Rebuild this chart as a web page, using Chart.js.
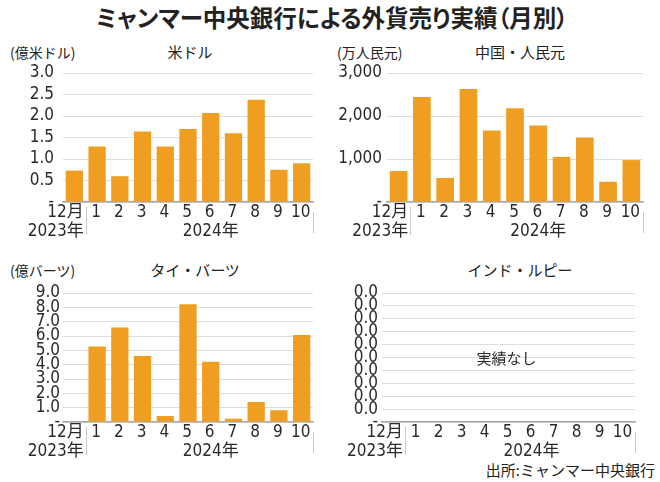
<!DOCTYPE html>
<html>
<head>
<meta charset="utf-8">
<script src="https://cdn.jsdelivr.net/npm/chart.js@4.4.1/dist/chart.umd.min.js"></script>
<style>
  body { margin: 0; background: #fff; }
  #wrap { position: relative; width: 660px; height: 482px; overflow: hidden; font-family: 'Noto Sans CJK JP', sans-serif; color: #222; }
  .txt { position: absolute; white-space: nowrap; line-height: 1; }
  canvas { position: absolute; }
</style>
</head>
<body>
<div id="wrap">
  <div class="txt" style="left:0;width:664px;text-align:center;top:6px;font-size:23.5px;font-weight:bold;font-feature-settings:'palt';">ミャンマー中央銀行による外貨売り実績（月別）</div>

  <div class="txt" style="left:10px;top:45px;font-size:14px;">(億米ドル)</div>
  <div class="txt" style="left:140px;width:100px;text-align:center;top:44px;font-size:15px;">米ドル</div>
  <div class="txt" style="left:337px;top:45px;font-size:14px;">(万人民元)</div>
  <div class="txt" style="left:460px;width:120px;text-align:center;top:44px;font-size:15px;">中国・人民元</div>

  <div class="txt" style="left:10px;top:263px;font-size:14px;">(億バーツ)</div>
  <div class="txt" style="left:135px;width:120px;text-align:center;top:262px;font-size:15px;">タイ・バーツ</div>
  <div class="txt" style="left:460px;width:120px;text-align:center;top:262px;font-size:15px;">インド・ルピー</div>

  <div class="txt" style="right:5px;top:462px;font-size:15px;">出所:ミャンマー中央銀行</div>

  <canvas id="c1" width="330" height="210" style="left:0;top:40px;"></canvas>
  <canvas id="c2" width="330" height="210" style="left:330px;top:40px;"></canvas>
  <canvas id="c3" width="330" height="210" style="left:0;top:260px;"></canvas>
  <canvas id="c4" width="330" height="210" style="left:330px;top:260px;"></canvas>
</div>
<script>
// categories
const months = ['12月', '1', '2', '3', '4', '5', '6', '7', '8', '9', '10']
const yearLabels = ['2023年', '2024年']

// series
const usdValues = [0.73, 1.29, 0.6, 1.64, 1.29, 1.7, 2.07, 1.6, 2.38, 0.75, 0.9]
const cnyValues = [720, 2440, 560, 2630, 1660, 2180, 1780, 1050, 1500, 470, 975]
const thbValues = [0, 5.26, 6.6, 4.6, 0.42, 8.22, 4.2, 0.23, 1.4, 0.82, 6.07]
const inrValues = [null, null, null, null, null, null, null, null, null, null, null]
const noDataText = '実績なし'

const barColor = '#EF9E22'
const textColor = '#2a2a2a'
const tickFont = { family: "'DejaVu Sans','Noto Sans CJK JP',sans-serif", size: 17, weight: 'condensed' }
const fontStr = 'condensed ' + tickFont.size + 'px ' + tickFont.family

// month labels, separators and year labels under the x axis
const extras = {
  id: 'extras',
  afterDraw (chart) {
    const ctx = chart.ctx
    const x = chart.scales.x
    const area = chart.chartArea
    const sep = (x.getPixelForValue(0) + x.getPixelForValue(1)) / 2
    ctx.save()
    ctx.strokeStyle = '#c8c8c8'
    ctx.lineWidth = 1
    ctx.beginPath()
    ctx.moveTo(Math.round(sep) + 0.5, area.bottom + 5)
    ctx.lineTo(Math.round(sep) + 0.5, area.bottom + 33)
    ctx.moveTo(Math.round(area.right) + 0.5, area.bottom + 10)
    ctx.lineTo(Math.round(area.right) + 0.5, area.bottom + 31)
    ctx.stroke()
    ctx.fillStyle = textColor
    ctx.font = fontStr
    ctx.textBaseline = 'middle'
    months.forEach(function (m, i) {
      if (i === 0) {
        ctx.textAlign = 'right'
        ctx.fillText(m, sep - 2, area.bottom + 11)
      } else {
        ctx.textAlign = 'center'
        ctx.fillText(m, x.getPixelForValue(i) - 1, area.bottom + 11)
      }
    })
    ctx.textAlign = 'right'
    ctx.fillText(yearLabels[0], sep - 2, area.bottom + 30)
    ctx.textAlign = 'center'
    ctx.fillText(yearLabels[1], x.getPixelForValue(6), area.bottom + 30)
    const msg = chart.options.plugins.extras.text
    if (msg) {
      ctx.font = "15px 'Noto Sans CJK JP', sans-serif"
      ctx.fillText(msg, (area.left + area.right) / 2 - 2, (area.top + area.bottom) / 2 + 1)
    }
    ctx.restore()
  }
}

function makeChart (id, values, opt) {
  const ctx = document.getElementById(id).getContext('2d')
  return new Chart(ctx, {
    type: 'bar',
    data: {
      labels: months,
      datasets: [{
        data: values,
        backgroundColor: barColor,
        borderWidth: 0,
        barPercentage: 0.76,
        categoryPercentage: 1
      }]
    },
    options: {
      responsive: false,
      animation: false,
      layout: { padding: { left: 0, right: opt.padRight, top: 33, bottom: 0 } },
      plugins: {
        legend: { display: false },
        tooltip: { enabled: false },
        extras: { text: opt.text || '' }
      },
      scales: {
        x: {
          grid: { display: false, drawTicks: false },
          border: { display: true, color: '#a8a8a8', width: 1.5 },
          ticks: { display: false },
          afterFit: function (scale) { scale.height = 48 }
        },
        y: {
          min: 0,
          max: opt.max,
          grid: { color: '#dedede', lineWidth: 1, drawTicks: false },
          border: { display: false },
          ticks: {
            stepSize: opt.step,
            color: textColor, font: tickFont, padding: opt.tickPad,
            autoSkip: false,
            callback: opt.label
          },
          afterFit: function (scale) { scale.width = opt.axisWidth }
        }
      }
    },
    plugins: [extras]
  })
}

makeChart('c1', usdValues, {
  max: 3, step: 0.5, axisWidth: 63, padRight: 17, tickPad: 9,
  label: v => v === 0 ? '-' : v.toFixed(1)
})
makeChart('c2', cnyValues, {
  max: 3000, step: 1000, axisWidth: 57, padRight: 17, tickPad: 5,
  label: v => v === 0 ? '-' : v.toLocaleString('en-US')
})
makeChart('c3', thbValues, {
  max: 9, step: 1, axisWidth: 63, padRight: 17, tickPad: 3,
  label: v => v === 0 ? '-' : v.toFixed(1)
})
makeChart('c4', inrValues, {
  max: 1, step: 0.1, axisWidth: 52, padRight: 25, tickPad: 4,
  label: v => v === 0 ? '-' : '0.0',
  text: noDataText
})
</script>
</body>
</html>
